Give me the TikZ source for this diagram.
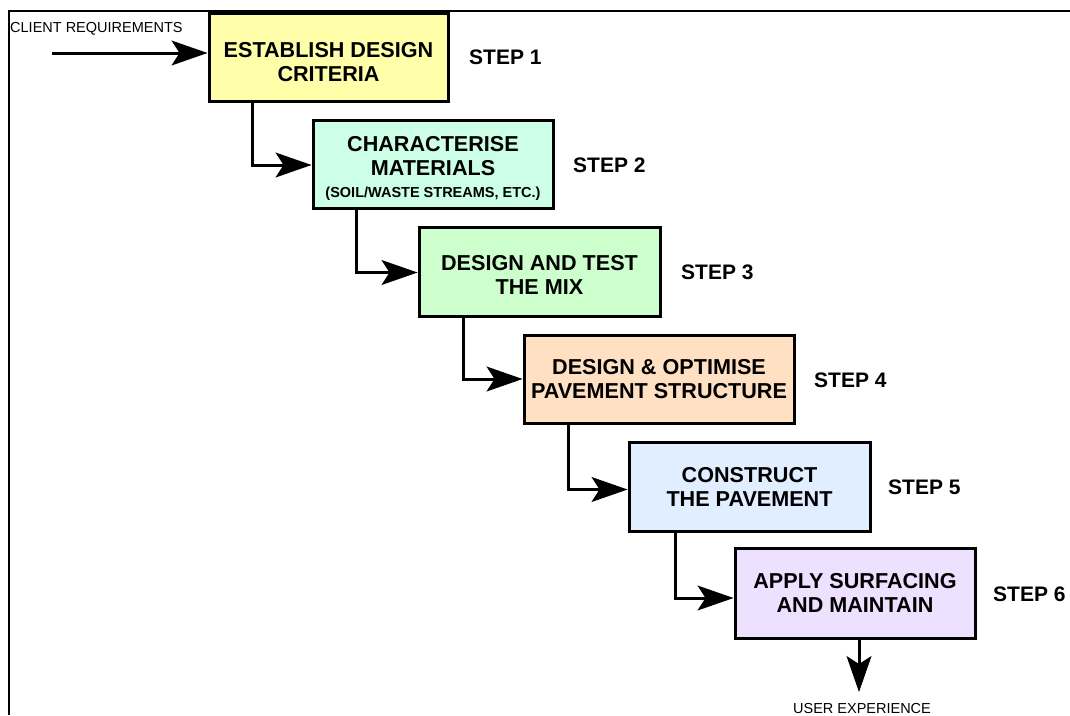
\documentclass[tikz,border=0pt]{standalone}
\usepackage{fontspec}
\setmainfont{Liberation Sans}
\usetikzlibrary{arrows.meta,calc}
\definecolor{c1}{RGB}{255,255,170}
\definecolor{c2}{RGB}{204,255,230}
\definecolor{c3}{RGB}{204,255,204}
\definecolor{c4}{RGB}{255,224,194}
\definecolor{c5}{RGB}{224,238,255}
\definecolor{c6}{RGB}{238,224,255}
\tikzset{
  stepbox/.style={draw=black, line width=3pt, align=center, inner sep=2pt,
    minimum height=88pt, font=\bfseries\fontsize{21.6}{24}\selectfont},
  steplabel/.style={anchor=west, inner sep=0pt, font=\bfseries\fontsize{21}{24}\selectfont},
  conn/.style={line width=3pt, -{Stealth[length=36pt,width=25pt,inset=8pt,line width=1pt,fill=black]}},
  smalltxt/.style={inner sep=0pt, font=\fontsize{14.5}{16}\selectfont},
  frame/.style={line width=2pt}
}
\begin{document}
\begin{tikzpicture}[x=1pt,y=-1pt]
\useasboundingbox (0,0) rectangle (1070,715);
\fill[white] (0,0) rectangle (1070,715);
\coordinate (ftl) at (9,11);
\coordinate (ftr) at (1070,11);
\coordinate (fbl) at (9,715);
\draw[frame] (ftr) -- (ftl) -- (fbl);

\node[stepbox, fill=c1, minimum width=239pt] (b1) at (328.5,57) {\rule{0pt}{25.5pt}ESTABLISH DESIGN\\CRITERIA};
\node[stepbox, fill=c2, minimum width=240pt] (b2) at (433,164) {\rule{0pt}{23.5pt}CHARACTERISE\\MATERIALS\\[-2pt]{\fontsize{14.5}{16}\selectfont (SOIL/WASTE STREAMS, ETC.)}};
\node[stepbox, fill=c3, minimum width=241pt, minimum height=89pt] (b3) at (539.5,271.5) {\rule{0pt}{21.5pt}DESIGN AND TEST\\THE MIX};
\node[stepbox, fill=c4, minimum width=270pt] (b4) at (659,379) {DESIGN \& OPTIMISE\\PAVEMENT STRUCTURE};
\node[stepbox, fill=c5, minimum width=241pt, minimum height=89pt] (b5) at (749.5,486.5) {CONSTRUCT\\THE PAVEMENT};
\node[stepbox, fill=c6, minimum width=240pt, minimum height=90pt] (b6) at (855,593) {APPLY SURFACING\\AND MAINTAIN};

\node[steplabel] (s1) at (469,57) {STEP 1};
\node[steplabel] (s2) at (573,165) {STEP 2};
\node[steplabel] (s3) at (681,272) {STEP 3};
\node[steplabel] (s4) at (814,380) {STEP 4};
\node[steplabel] (s5) at (888,487) {STEP 5};
\node[steplabel] (s6) at (993,594) {STEP 6};

\node[smalltxt, anchor=west] (cr) at (10,29) {CLIENT REQUIREMENTS};
\coordinate (crs) at (52,53);
\draw[conn] (crs) -- (crs -| b1.west);

\draw[conn] ([xshift=45pt]b1.south west) |- ([yshift=-1pt]b2.west);
\draw[conn] ([xshift=45pt]b2.south west) |- ([yshift=-1pt]b3.west);
\draw[conn] ([xshift=46pt]b3.south west) |- (b4.west);
\draw[conn] ([xshift=46pt]b4.south west) |- ([yshift=-3pt]b5.west);
\draw[conn] ([xshift=48pt]b5.south west) |- ([yshift=-5pt]b6.west);

\coordinate (ue) at (859,692);
\draw[conn] (b6.south -| ue) -- (ue);
\node[smalltxt] (uet) at (862,708) {USER EXPERIENCE};
\end{tikzpicture}
\end{document}
